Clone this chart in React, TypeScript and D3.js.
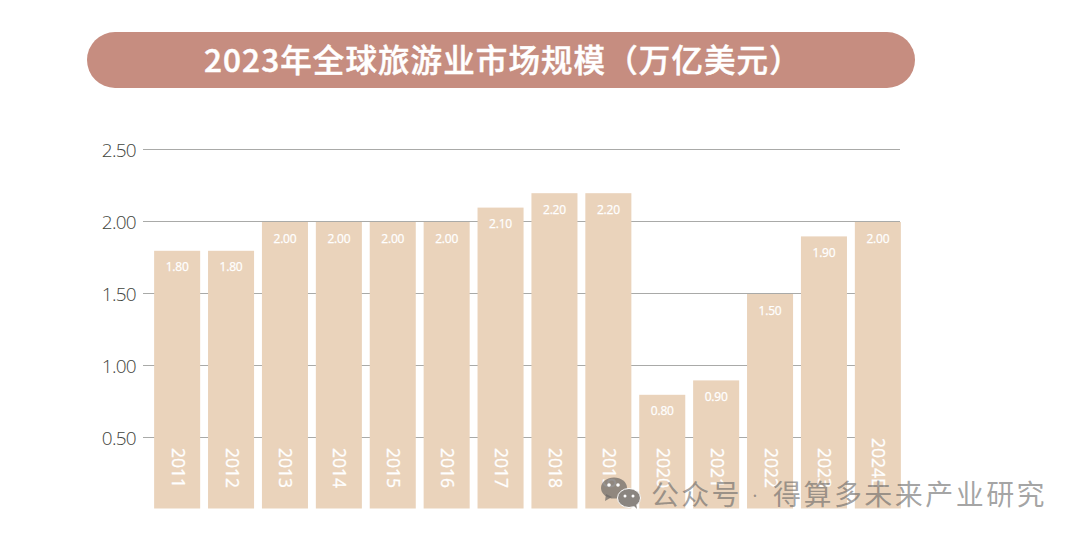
import React from "react";
import * as d3 from "d3";

const years = ["2011","2012","2013","2014","2015","2016","2017","2018","2019","2020","2021","2022","2023","2024E"];
const values = [1.8,1.8,2.0,2.0,2.0,2.0,2.1,2.2,2.2,0.8,0.9,1.5,1.9,2.0];
const valueLabels = ["1.80","1.80","2.00","2.00","2.00","2.00","2.10","2.20","2.20","0.80","0.90","1.50","1.90","2.00"];
const yTicks = [0.5,1.0,1.5,2.0,2.5];
const title = "2023年全球旅游业市场规模（万亿美元）";
const watermarkHead = "公众号";
const watermarkDot = "·";
const watermarkTail = "得算多未来产业研究";

const cjk = "'Noto Sans CJK SC','Noto Sans',sans-serif";
const latin = "'Open Sans','Noto Sans',sans-serif";

export default function App() {
  const y = d3.scaleLinear().domain([0, 2.5]).range([509.5, 149.5]);
  const x = d3.scaleBand<string>().domain(years).range([150.2, 904.8]).paddingInner(0.146).paddingOuter(0.073);
  const wm = { fill: "#5f5f5f", fillOpacity: 0.58, fontFamily: cjk, fontSize: 28 };
  return (
    <svg width={1080} height={538} style={{ position: "absolute", left: 0, top: 0, background: "#fff" }}>
      <rect x={87} y={32} width={828} height={56} rx={28} fill="#c68d80" />
      <text x={204} y={72} fill="#fff" stroke="#fff" strokeWidth={0.5} fontFamily={cjk} fontWeight={500} fontSize={31.5} letterSpacing={1.1}>{title}</text>
      {yTicks.map(t => (
        <g key={t}>
          <line x1={143} x2={900} y1={y(t)} y2={y(t)} stroke="#a9aaa8" strokeWidth={1} />
          <text x={136} y={y(t) + 7} textAnchor="end" fill="#3f443c" fontFamily={latin} fontWeight={300} fontSize={19} letterSpacing={-0.7}>{t.toFixed(2)}</text>
        </g>
      ))}
      {years.map((yr, i) => {
        const bx = x(yr)!;
        const cx = bx + x.bandwidth() / 2;
        const top = y(values[i]) + 0.5;
        return (
          <g key={yr}>
            <rect x={bx} y={top} width={x.bandwidth()} height={508.5 - top} fill="#ead3bb" />
            <text x={cx} y={top + 20.5} textAnchor="middle" fill="#fff" stroke="#fff" strokeWidth={0.25} fontFamily={latin} fontSize={12} fontWeight={500} letterSpacing={-0.2}>{valueLabels[i]}</text>
            <text transform={`translate(${cx - 5.5},${i === 13 ? 438 : 448}) rotate(90)`} fill="#fff" stroke="#fff" strokeWidth={0.3} fontFamily={latin} fontWeight={500} fontSize={17.5}>{yr}</text>
          </g>
        );
      })}
      <g fill="#6e6a66" fillOpacity={0.72}>
        <ellipse cx={614} cy={488} rx={13} ry={10.5} />
        <path d="M606 494 l-1 7 l7 -4 z" />
      </g>
      <g>
        <ellipse cx={629} cy={498} rx={11.5} ry={9.5} fill="#8a8580" stroke="#fff" strokeWidth={1} />
        <path d="M633 505 l4 4 l-1 -6 z" fill="#8a8580" />
        <circle cx={609} cy={485} r={1.8} fill="#fff" />
        <circle cx={618} cy={485} r={1.8} fill="#fff" />
        <circle cx={625} cy={496} r={1.5} fill="#fff" />
        <circle cx={633} cy={496} r={1.5} fill="#fff" />
      </g>
      <text x={651} y={505} {...wm} letterSpacing={2.2}>{watermarkHead}</text>
      <text x={755} y={503} {...wm} fontFamily={latin} fontSize={20} textAnchor="middle">{watermarkDot}</text>
      <text x={773} y={505} {...wm} letterSpacing={2.45}>{watermarkTail}</text>
    </svg>
  );
}
